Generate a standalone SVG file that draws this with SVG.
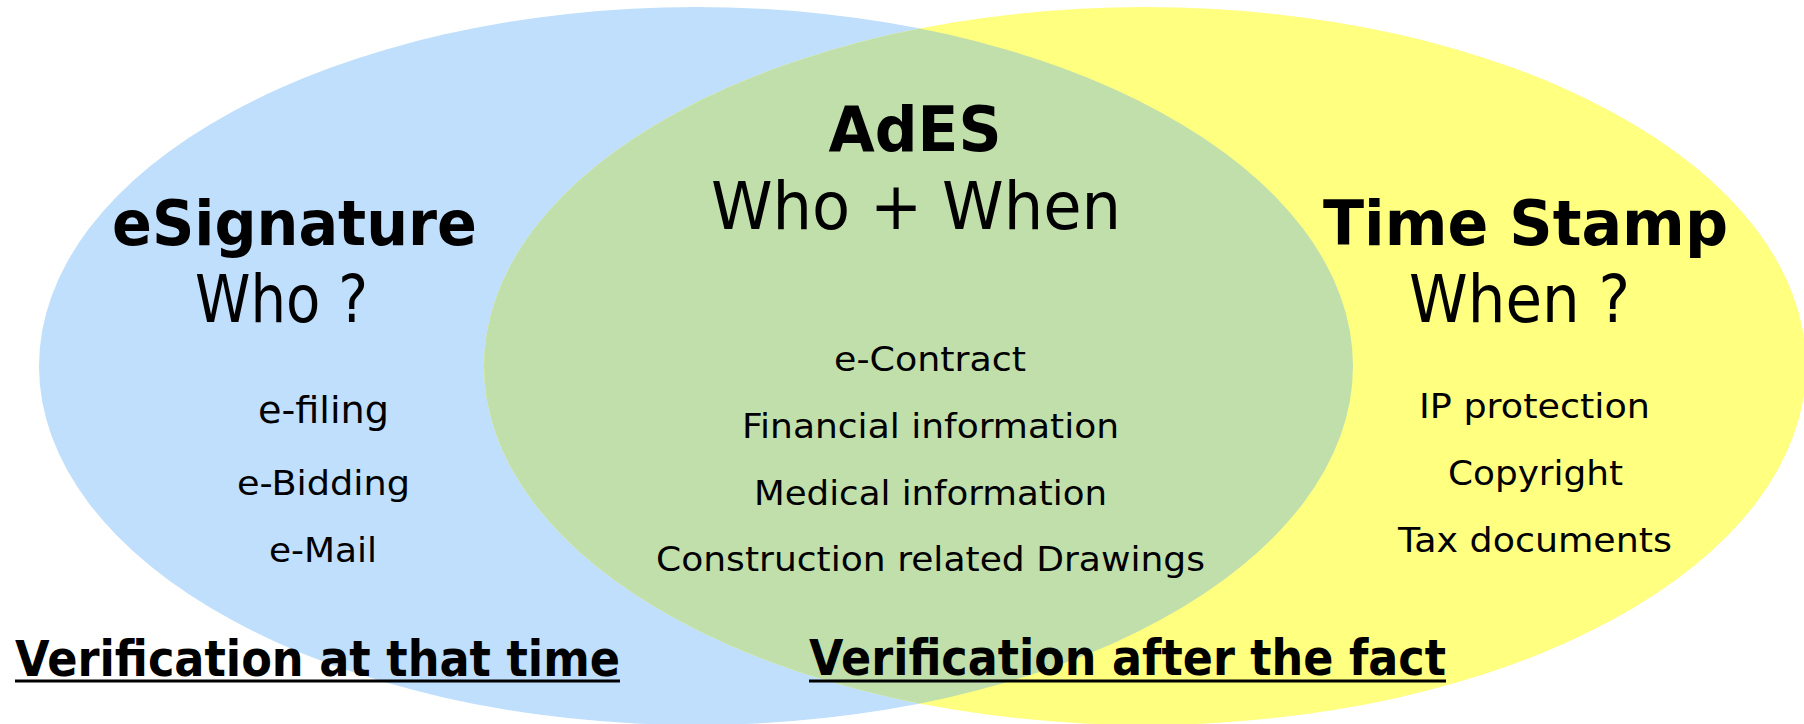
<svg xmlns="http://www.w3.org/2000/svg" width="1804" height="724" viewBox="0 0 1804 724">
<style>
text{font-family:"DejaVu Sans","Verdana",sans-serif;fill:#000;}
.t{font-weight:bold;font-size:63px;text-anchor:middle;}
.s{font-size:65px;text-anchor:middle;}
.i{font-size:34px;text-anchor:middle;}
.b{font-weight:bold;font-size:50px;}
.u{stroke:#000;stroke-width:3;}
</style>
<defs>
<clipPath id="clipBlue"><ellipse cx="696" cy="366" rx="657" ry="359"/></clipPath>
</defs>
<g id="sets">
<ellipse id="blue" cx="696" cy="366" rx="657" ry="359" fill="#BFDFFC"/>
<ellipse id="yellow" cx="1145" cy="366" rx="661" ry="359" fill="#FFFF80"/>
<ellipse id="green" cx="1145" cy="366" rx="661" ry="359" fill="#C1DFAA" clip-path="url(#clipBlue)"/>
</g>
<g id="ades">
<text class="t" x="915" y="151" textLength="173" lengthAdjust="spacingAndGlyphs">AdES</text>
<text class="s" x="916" y="229" textLength="410" lengthAdjust="spacingAndGlyphs">Who + When</text>
<text class="i" x="930" y="371" textLength="192" lengthAdjust="spacingAndGlyphs">e-Contract</text>
<text class="i" x="930.5" y="438" textLength="377" lengthAdjust="spacingAndGlyphs">Financial information</text>
<text class="i" x="930.5" y="505" textLength="353" lengthAdjust="spacingAndGlyphs">Medical information</text>
<text class="i" x="930.5" y="571" textLength="549" lengthAdjust="spacingAndGlyphs">Construction related Drawings</text>
</g>
<g id="esignature">
<text class="t" x="294.5" y="245" textLength="365" lengthAdjust="spacingAndGlyphs">eSignature</text>
<text class="s" x="281.5" y="322" textLength="173" lengthAdjust="spacingAndGlyphs">Who ?</text>
<text class="i" x="323.5" y="423" style="font-size:38px" textLength="131" lengthAdjust="spacingAndGlyphs">e-filing</text>
<text class="i" x="323.5" y="495" textLength="173" lengthAdjust="spacingAndGlyphs">e-Bidding</text>
<text class="i" x="323" y="562" textLength="108" lengthAdjust="spacingAndGlyphs">e-Mail</text>
</g>
<g id="timestamp">
<text class="t" x="1525.5" y="245" textLength="405" lengthAdjust="spacingAndGlyphs">Time Stamp</text>
<text class="s" x="1519.5" y="322" textLength="221" lengthAdjust="spacingAndGlyphs">When ?</text>
<text class="i" x="1534.5" y="418" textLength="231" lengthAdjust="spacingAndGlyphs">IP protection</text>
<text class="i" x="1535.5" y="485" textLength="175" lengthAdjust="spacingAndGlyphs">Copyright</text>
<text class="i" x="1535" y="552" textLength="274" lengthAdjust="spacingAndGlyphs">Tax documents</text>
</g>
<g id="verification-left">
<text class="b" x="15" y="676" textLength="605" lengthAdjust="spacingAndGlyphs">Verification at that time</text>
<line class="u" x1="15" y1="681" x2="620" y2="681"/>
</g>
<g id="verification-right">
<text class="b" x="809" y="675" textLength="637" lengthAdjust="spacingAndGlyphs">Verification after the fact</text>
<line class="u" x1="809" y1="681" x2="1446" y2="681"/>
</g>
</svg>
